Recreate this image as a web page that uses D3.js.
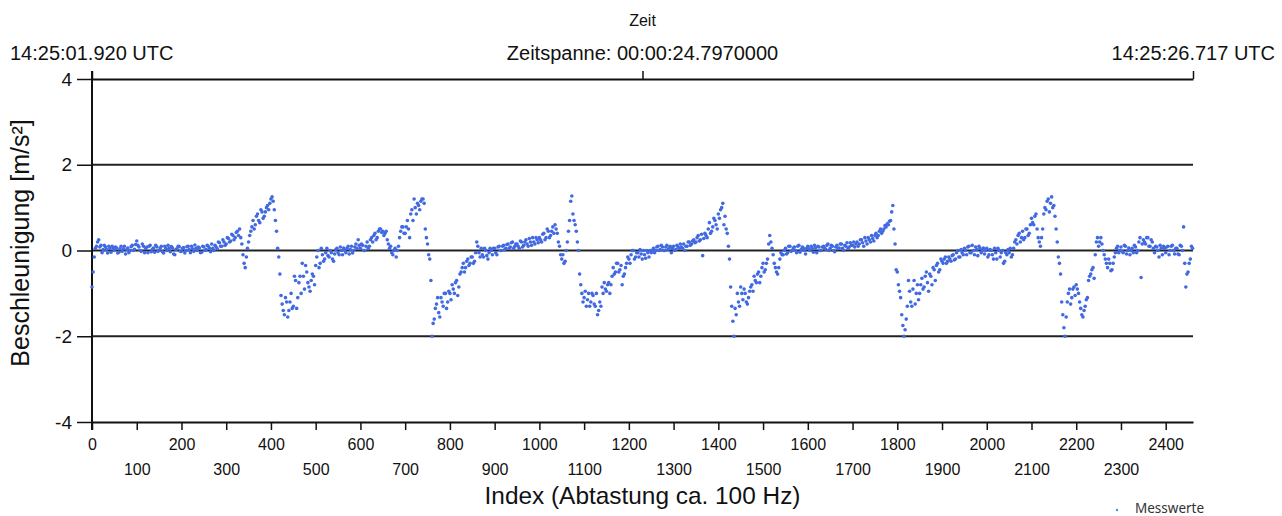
<!DOCTYPE html>
<html>
<head>
<meta charset="utf-8">
<script src="https://cdn.jsdelivr.net/npm/d3@7"></script>
<style>
  body { margin: 0; background: #fff; }
  text { font-family: "Liberation Sans", Arial, sans-serif; fill: #111; }
</style>
</head>
<body>
<div id="chart"></div>
<script>
// sample spacing of the values below (index units)
var sampleStep = 5;
var indexMax = 2461;

// acceleration values at index 0, 5, 10, ... (blocks of 50)
var values = [
  -0.85, -0.15, 0.1, 0.25, 0.12, 0.02, 0.08, -0.06, 0.05, 0.1,
  0.0, 0.06, -0.04, 0.1, 0.04, -0.08, 0.06, 0.0, 0.12, 0.03,
  0.22, 0.08, -0.02, 0.1, 0.05, -0.05, 0.12, 0.03, -0.04, 0.08,
  0.0, 0.1, -0.06, 0.05, 0.12, -0.03, 0.06, -0.1, 0.04, 0.09,
  -0.02, 0.07, 0.0, 0.1, -0.05, 0.04, 0.13, 0.0, 0.06, -0.04,
  0.08, 0.02, 0.1, -0.03, 0.05, 0.12, 0.04, 0.18, 0.1, 0.2,
  0.15, 0.28, 0.22, 0.35, 0.3, 0.45, 0.5, 0.15, -0.3, -0.15,
  0.2, 0.45, 0.7, 0.6, 0.85, 0.65, 0.9, 0.8, 1.0, 0.95,
  1.2, 1.15, 0.7, 0.05, -0.55, -1.25, -1.5, -1.2, -1.4, -1.0,
  -1.3, -0.7, -1.1, -0.6, -0.3, -0.9, -0.5, -0.85, -0.7, -0.6,
  -0.35, 0.0, -0.3, -0.1, -0.2, 0.05, -0.15, -0.05, -0.25, 0.02,
  -0.05, 0.08, -0.1, 0.0, 0.05, -0.08, 0.1, 0.0, 0.15, 0.25,
  0.05, 0.12, 0.0, 0.2, 0.1, 0.3, 0.35, 0.25, 0.45, 0.5,
  0.45, 0.4, 0.25, 0.05, -0.05, 0.0, -0.15, 0.1, 0.45, 0.55,
  0.4, 0.7, 0.3, 0.95, 1.2, 0.85, 1.05, 1.15, 1.2, 0.5,
  0.15, -0.2, -2.0, -1.6, -1.25, -1.45, -1.1, -1.3, -1.0, -1.2,
  -1.0, -0.8, -1.0, -0.7, -0.85, -0.5, -0.3, -0.4, -0.2, -0.3,
  -0.15, -0.25, 0.2, -0.05, 0.05, -0.15, 0.0, -0.2, 0.05, -0.1,
  0.05, -0.1, 0.1, 0.0, 0.12, 0.05, 0.15, 0.08, 0.2, 0.1,
  0.15, 0.05, 0.2, 0.12, 0.25, 0.1, 0.2, 0.3, 0.15, 0.25,
  0.3, 0.2, 0.4, 0.3, 0.45, 0.35, 0.55, 0.6, 0.4, 0.1,
  -0.2, -0.3, 0.0, 0.45, 1.15, 0.85, 0.6, 0.2, -0.55, -1.0,
  -1.1, -1.3, -1.0, -1.2, -1.05, -1.3, -1.5, -1.2, -0.85, -0.75,
  -0.95, -0.75, -0.8, -0.4, -0.5, -0.3, -0.45, -0.8, -0.55, -0.3,
  -0.2, -0.1, 0.0, -0.15, -0.05, 0.02, -0.2, -0.1, 0.0, -0.15,
  -0.05, 0.05, 0.0, 0.1, 0.02, 0.08, 0.0, 0.12, 0.05, -0.05,
  0.1, 0.02, 0.08, 0.15, 0.05, 0.0, 0.1, 0.2, 0.15, 0.25,
  0.2, 0.35, 0.25, -0.12, 0.4, 0.3, 0.65, 0.45, 0.75, 0.6,
  0.85, 0.95, 1.1, 0.8, 0.4, -0.2, -1.3, -2.0, -1.5, -1.2,
  -0.85, -1.15, -1.0, -1.25, -0.95, -0.8, -0.6, -0.75, -0.5, -0.6,
  -0.3, -0.45, -0.2, 0.35, 0.05, -0.3, -0.5, -0.4, -0.05, -0.1,
  0.05, -0.05, 0.1, 0.0, 0.08, -0.05, 0.12, 0.02, 0.06, -0.08,
  0.1, 0.0, 0.05, 0.12, -0.05, 0.08, 0.0, 0.1, 0.03, 0.15,
  0.05, 0.1, -0.03, 0.12, 0.06, 0.15, 0.0, 0.1, 0.05, 0.18,
  0.12, 0.08, 0.2, 0.15, 0.25, 0.1, 0.22, 0.3, 0.2, 0.28,
  0.35, 0.3, 0.45, 0.4, 0.5, 0.55, 0.6, 0.7, 1.05, 0.15,
  -0.5, -0.95, -1.5, -2.0, -1.6, -0.7, -1.2, -0.9, -1.25, -0.8,
  -1.0, -0.65, -0.85, -0.5, -0.95, -0.6, -0.4, -0.7, -0.3, -0.45,
  -0.25, -0.2, -0.3, -0.15, -0.25, -0.1, -0.2, 0.0, -0.15, -0.05,
  0.05, -0.1, 0.1, -0.05, 0.0, 0.08, -0.12, 0.05, 0.0, -0.08,
  0.05, -0.1, 0.0, -0.2, -0.05, 0.05, -0.15, 0.0, -0.25, -0.1,
  -0.05, -0.15, 0.05, 0.25, 0.35, 0.2, 0.45, 0.3, 0.5, 0.4,
  0.75, 0.6, 0.85, 0.3, 0.1, 0.5, 1.0, 1.15, 0.9, 1.25,
  1.05, 0.5, -0.15, -0.55, -1.5, -2.0, -1.2, -0.9, -1.1, -0.85,
  -0.8, -1.0, -1.35, -1.55, -1.3, -1.1, -0.6, -0.45, -0.65, 0.2,
  0.1, 0.3, 0.0, -0.2, -0.4, -0.3, -0.45, -0.15, 0.05, -0.05,
  0.08, -0.05, 0.1, 0.0, -0.1, 0.05, 0.12, -0.05, 0.2, -0.63,
  0.25, 0.15, 0.3, 0.1, 0.2, -0.05, 0.08, -0.15, 0.05, 0.1,
  -0.05, 0.1, 0.0, 0.12, -0.08, 0.05, -0.1, 0.1, 0.55, -0.85,
  -0.5, -0.2, 0.05
];

// second reading, at index 2.5, 7.5, 12.5, ... (the spread of the point cloud)
var valuesB = [
  -0.5, 0.05, 0.2, 0.08, -0.05, 0.12, 0.02, 0.1, -0.04, 0.06,
  0.08, -0.06, 0.04, -0.02, 0.1, 0.02, -0.05, 0.09, 0.0, 0.14,
  0.12, 0.0, 0.15, -0.05, 0.08, 0.1, -0.03, 0.06, 0.12, -0.02,
  0.06, -0.03, 0.1, 0.0, 0.05, 0.09, -0.08, 0.02, 0.1, -0.02,
  0.05, -0.06, 0.09, 0.02, 0.1, -0.02, 0.05, 0.08, -0.05, 0.1,
  0.0, 0.12, 0.05, 0.15, 0.0, 0.08, 0.2, 0.1, 0.25, 0.12,
  0.3, 0.2, 0.38, 0.25, 0.42, 0.35, 0.3, -0.1, -0.4, 0.05,
  0.35, 0.55, 0.5, 0.8, 0.7, 0.95, 0.75, 0.9, 1.05, 1.1,
  1.25, 0.95, 0.45, -0.15, -1.05, -1.4, -1.1, -1.55, -1.2, -1.35,
  -0.6, -1.35, -0.75, -1.0, -0.6, -0.35, -0.75, -0.95, -0.55, -0.8,
  -0.15, -0.4, 0.05, -0.25, -0.05, -0.12, 0.0, -0.2, -0.08, 0.05,
  -0.1, 0.0, 0.06, -0.05, 0.1, 0.02, -0.06, 0.08, 0.05, 0.12,
  0.15, 0.0, 0.1, 0.05, 0.25, 0.2, 0.4, 0.3, 0.5, 0.42,
  0.35, 0.45, 0.15, 0.1, -0.1, 0.05, 0.0, 0.3, 0.55, 0.4,
  0.55, 0.5, 0.85, 0.7, 1.0, 1.1, 0.95, 1.2, 1.1, 0.3,
  -0.1, -0.7, -1.7, -1.35, -1.1, -1.55, -1.2, -1.0, -1.35, -0.95,
  -1.15, -0.9, -0.75, -1.05, -0.55, -0.4, -0.5, -0.25, -0.35, -0.15,
  -0.3, -0.05, 0.1, -0.15, -0.1, 0.05, -0.12, -0.05, 0.0, 0.05,
  -0.05, 0.08, 0.0, 0.1, 0.02, 0.14, 0.05, 0.18, 0.05, 0.15,
  0.1, 0.22, 0.08, 0.2, 0.15, 0.28, 0.12, 0.2, 0.3, 0.18,
  0.25, 0.38, 0.25, 0.5, 0.3, 0.45, 0.4, 0.5, 0.2, -0.1,
  -0.1, -0.25, 0.2, 0.7, 1.27, 0.7, 0.45, 0.0, -0.8, -1.2,
  -0.95, -1.15, -1.3, -1.0, -1.25, -1.0, -1.4, -1.3, -1.0, -0.9,
  -0.8, -1.0, -0.6, -0.55, -0.3, -0.5, -0.35, -0.6, -0.4, -0.15,
  -0.3, 0.0, -0.2, -0.05, -0.15, -0.08, 0.0, -0.18, -0.05, 0.0,
  0.0, -0.05, 0.08, 0.0, 0.12, 0.0, 0.08, 0.02, 0.1, 0.05,
  0.0, 0.12, 0.05, 0.08, 0.15, 0.1, 0.2, 0.12, 0.22, 0.18,
  0.3, 0.22, 0.38, 0.28, 0.35, 0.5, 0.4, 0.55, 0.7, 0.5,
  0.75, 1.0, 0.6, 0.5, 0.1, -0.85, -1.65, -1.35, -1.0, -1.3,
  -1.0, -0.9, -1.2, -1.1, -0.85, -0.95, -0.7, -0.55, -0.75, -0.4,
  -0.5, -0.3, 0.15, 0.2, -0.1, -0.4, -0.55, -0.2, -0.1, 0.0,
  -0.08, 0.1, -0.02, 0.06, 0.0, 0.1, -0.04, 0.08, 0.0, 0.05,
  0.04, 0.1, -0.04, 0.06, 0.1, 0.0, 0.08, 0.05, 0.12, 0.0,
  0.12, 0.0, 0.08, 0.04, 0.15, 0.05, 0.12, 0.18, 0.08, 0.12,
  0.2, 0.15, 0.1, 0.25, 0.18, 0.3, 0.15, 0.25, 0.35, 0.22,
  0.4, 0.35, 0.5, 0.45, 0.58, 0.62, 0.68, 0.9, 0.5, -0.45,
  -0.8, -1.1, -1.75, -1.85, -1.3, -0.95, -1.3, -0.7, -1.0, -1.15,
  -0.8, -0.9, -0.6, -0.75, -0.55, -0.8, -0.45, -0.35, -0.5, -0.2,
  -0.3, -0.15, -0.25, -0.2, -0.12, -0.22, -0.05, -0.15, 0.02, -0.1,
  0.0, 0.08, -0.05, 0.12, -0.1, 0.02, 0.1, -0.05, 0.06, 0.0,
  -0.15, 0.02, -0.1, 0.05, -0.2, 0.0, -0.05, -0.3, -0.05, 0.02,
  0.05, -0.1, 0.2, 0.15, 0.4, 0.3, 0.25, 0.5, 0.35, 0.6,
  0.65, 0.8, 0.5, 0.2, 0.3, 0.85, 0.95, 1.2, 1.1, 1.0,
  0.8, 0.2, -0.3, -1.2, -1.8, -1.55, -1.0, -1.25, -0.9, -1.05,
  -0.9, -1.2, -1.5, -1.4, -1.15, -0.7, -0.55, -0.4, -0.1, 0.3,
  0.2, 0.15, -0.1, -0.3, -0.2, -0.47, -0.3, -0.05, 0.1, 0.0,
  -0.02, 0.12, -0.08, 0.06, 0.0, -0.05, 0.08, 0.0, 0.3, 0.15,
  0.2, 0.3, 0.1, 0.25, 0.05, 0.1, 0.0, 0.12, -0.1, 0.05,
  0.08, -0.1, 0.1, 0.0, 0.05, -0.08, 0.12, 0.0, -0.3, -0.55,
  -0.3, 0.1
];

var yTicks = [-4, -2, 0, 2, 4];
var gridValues = [2, 0, -2];
var xTicks = d3.range(0, 2401, 100);
var topLeftLabel = "14:25:01.920 UTC";
var topMidLabel = "Zeitspanne: 00:00:24.7970000";
var topRightLabel = "14:25:26.717 UTC";

var width = 1282, height = 516;
var margin = {top: 79, right: 89, bottom: 94, left: 92};

var svg = d3.select("#chart")
  .append("svg")
    .attr("width", width)
    .attr("height", height);

var x = d3.scaleLinear()
  .domain([0, indexMax])
  .range([margin.left, width - margin.right]);

var y = d3.scaleLinear()
  .domain([-4, 4])
  .range([height - margin.bottom, margin.top]);

var points = values.map(function(v, i) { return {idx: i * sampleStep, val: v}; })
  .concat(valuesB.map(function(v, i) { return {idx: i * sampleStep + sampleStep / 2, val: v}; }));

var plainNumber = function(d) { return String(d); };

// horizontal grid lines
svg.selectAll(".grid")
  .data(gridValues)
  .enter()
  .append("line")
    .attr("x1", x(0))
    .attr("x2", x(indexMax))
    .attr("y1", function(d) { return y(d); })
    .attr("y2", function(d) { return y(d); })
    .attr("stroke", "#222")
    .attr("stroke-width", 2);

// bottom axis, labels in two rows
var xAxis = svg.append("g")
  .attr("transform", "translate(0," + y(-4) + ")")
  .call(d3.axisBottom(x).tickValues(xTicks).tickSize(8).tickSizeOuter(0).tickPadding(9).tickFormat(plainNumber));
xAxis.select(".domain").attr("stroke", "#111").attr("stroke-width", 2);
xAxis.selectAll(".tick line").attr("stroke", "#111").attr("stroke-width", 1.5);
xAxis.selectAll(".tick text")
  .attr("font-size", 16)
  .attr("font-family", "Liberation Sans, Arial, sans-serif")
  .attr("fill", "#111")
  .attr("y", function(d) { return (d / 100) % 2 === 1 ? 42 : 17; });

// left axis
var yAxis = svg.append("g")
  .attr("transform", "translate(" + x(0) + ",0)")
  .call(d3.axisLeft(y).tickValues(yTicks).tickSize(15).tickSizeOuter(0).tickPadding(5).tickFormat(plainNumber));
yAxis.select(".domain").remove();
yAxis.selectAll(".tick line").attr("stroke", "#111").attr("stroke-width", 1.5);
yAxis.selectAll(".tick text")
  .attr("font-size", 19)
  .attr("font-family", "Liberation Sans, Arial, sans-serif")
  .attr("fill", "#111");
svg.append("line")
  .attr("x1", x(0)).attr("x2", x(0))
  .attr("y1", y(4) - 8).attr("y2", y(-4) + 8)
  .attr("stroke", "#111").attr("stroke-width", 2);

// top time axis
var topAxis = svg.append("g")
  .attr("transform", "translate(0," + y(4) + ")")
  .call(d3.axisTop(x).tickValues([0, indexMax / 2, indexMax]).tickSize(8).tickSizeOuter(0).tickFormat(""));
topAxis.select(".domain").attr("stroke", "#111").attr("stroke-width", 2);
topAxis.selectAll(".tick line").attr("stroke", "#111").attr("stroke-width", 1.5);

svg.append("text")
  .attr("x", 10).attr("y", 60)
  .attr("font-size", 20)
  .text(topLeftLabel);
svg.append("text")
  .attr("x", x(indexMax / 2)).attr("y", 60)
  .attr("text-anchor", "middle")
  .attr("font-size", 20)
  .text(topMidLabel);
svg.append("text")
  .attr("x", 1275).attr("y", 60)
  .attr("text-anchor", "end")
  .attr("font-size", 20)
  .text(topRightLabel);
svg.append("text")
  .attr("x", x(indexMax / 2)).attr("y", 26)
  .attr("text-anchor", "middle")
  .attr("font-size", 16)
  .text("Zeit");

// axis titles
svg.append("text")
  .attr("x", x(indexMax / 2)).attr("y", 504)
  .attr("text-anchor", "middle")
  .attr("font-size", 24.4)
  .text("Index (Abtastung ca. 100 Hz)");
svg.append("text")
  .attr("transform", "translate(29,243) rotate(-90)")
  .attr("text-anchor", "middle")
  .attr("font-size", 25)
  .text("Beschleunigung [m/s²]");

// measured points
svg.selectAll(".pt")
  .data(points)
  .enter()
  .append("circle")
    .attr("cx", function(d) { return x(d.idx); })
    .attr("cy", function(d) { return y(d.val); })
    .attr("r", 1.8)
    .attr("fill", "#4169e1");

// legend
svg.append("circle")
  .attr("cx", 1117).attr("cy", 510).attr("r", 1.2)
  .attr("fill", "#4a90d9");
svg.append("text")
  .attr("x", 1135).attr("y", 513)
  .attr("font-size", 13.5)
  .style("font-family", "'Noto Sans', 'Open Sans', sans-serif")
  .style("fill", "#333")
  .text("Messwerte");
</script>
</body>
</html>
